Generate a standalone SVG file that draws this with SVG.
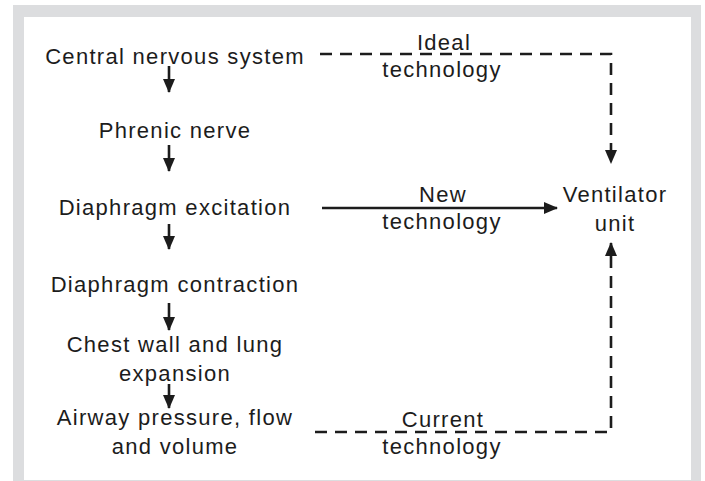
<svg xmlns="http://www.w3.org/2000/svg" width="705" height="481" viewBox="0 0 705 481">
  <style>
    .lbl { font-family: "Liberation Sans", Arial, sans-serif; font-size: 22px; letter-spacing: 1.3px; fill: #1c1c1c; text-anchor: middle; }
    .solid { stroke: #1c1c1c; stroke-width: 2.6; fill: none; }
    .dash { stroke: #1c1c1c; stroke-width: 2.6; fill: none; stroke-dasharray: 12 8; }
  </style>
  <defs>
    <marker id="head" viewBox="0 0 14 12" refX="13" refY="6" markerWidth="14" markerHeight="12" markerUnits="userSpaceOnUse" orient="auto">
      <path d="M0,0 L14,6 L0,12 z" fill="#1c1c1c"/>
    </marker>
  </defs>

  <!-- frame -->
  <rect x="0" y="0" width="705" height="481" fill="#ffffff"/>
  <rect x="13" y="5" width="688" height="476" fill="#dcdddf"/>
  <rect x="24" y="17" width="667" height="463" fill="#ffffff"/>

  <!-- physiological chain -->
  <g id="cns"><text class="lbl" x="175" y="64">Central nervous system</text></g>
  <g id="phrenic"><text class="lbl" x="175" y="138">Phrenic nerve</text></g>
  <g id="excitation"><text class="lbl" x="175" y="215">Diaphragm excitation</text></g>
  <g id="contraction"><text class="lbl" x="175" y="292">Diaphragm contraction</text></g>
  <g id="expansion">
    <text class="lbl" x="175" y="352">Chest wall and lung</text>
    <text class="lbl" x="175" y="381">expansion</text>
  </g>
  <g id="airway">
    <text class="lbl" x="175" y="425">Airway pressure, flow</text>
    <text class="lbl" x="175" y="454">and volume</text>
  </g>
  <g id="ventilator">
    <text class="lbl" x="615" y="202">Ventilator</text>
    <text class="lbl" x="615" y="231">unit</text>
  </g>

  <!-- connector labels -->
  <g id="labels">
    <text class="lbl" x="444" y="50">Ideal</text>
    <text class="lbl" x="442" y="77">technology</text>
    <text class="lbl" x="443" y="202">New</text>
    <text class="lbl" x="442" y="229">technology</text>
    <text class="lbl" x="443" y="427">Current</text>
    <text class="lbl" x="442" y="454">technology</text>
  </g>

  <!-- connectors -->
  <g id="connectors">
    <line class="solid" x1="169" y1="66" x2="169" y2="92" marker-end="url(#head)"/>
    <line class="solid" x1="169" y1="145" x2="169" y2="171" marker-end="url(#head)"/>
    <line class="solid" x1="169" y1="224" x2="169" y2="249" marker-end="url(#head)"/>
    <line class="solid" x1="169" y1="303" x2="169" y2="330" marker-end="url(#head)"/>
    <line class="solid" x1="169" y1="384" x2="169" y2="408" marker-end="url(#head)"/>
    <line class="solid" x1="322" y1="208" x2="557" y2="208" marker-end="url(#head)"/>
    <path class="dash" d="M320,54 H611 V163" marker-end="url(#head)"/>
    <path class="dash" d="M315,432 H611 V243" marker-end="url(#head)"/>
  </g>
</svg>
